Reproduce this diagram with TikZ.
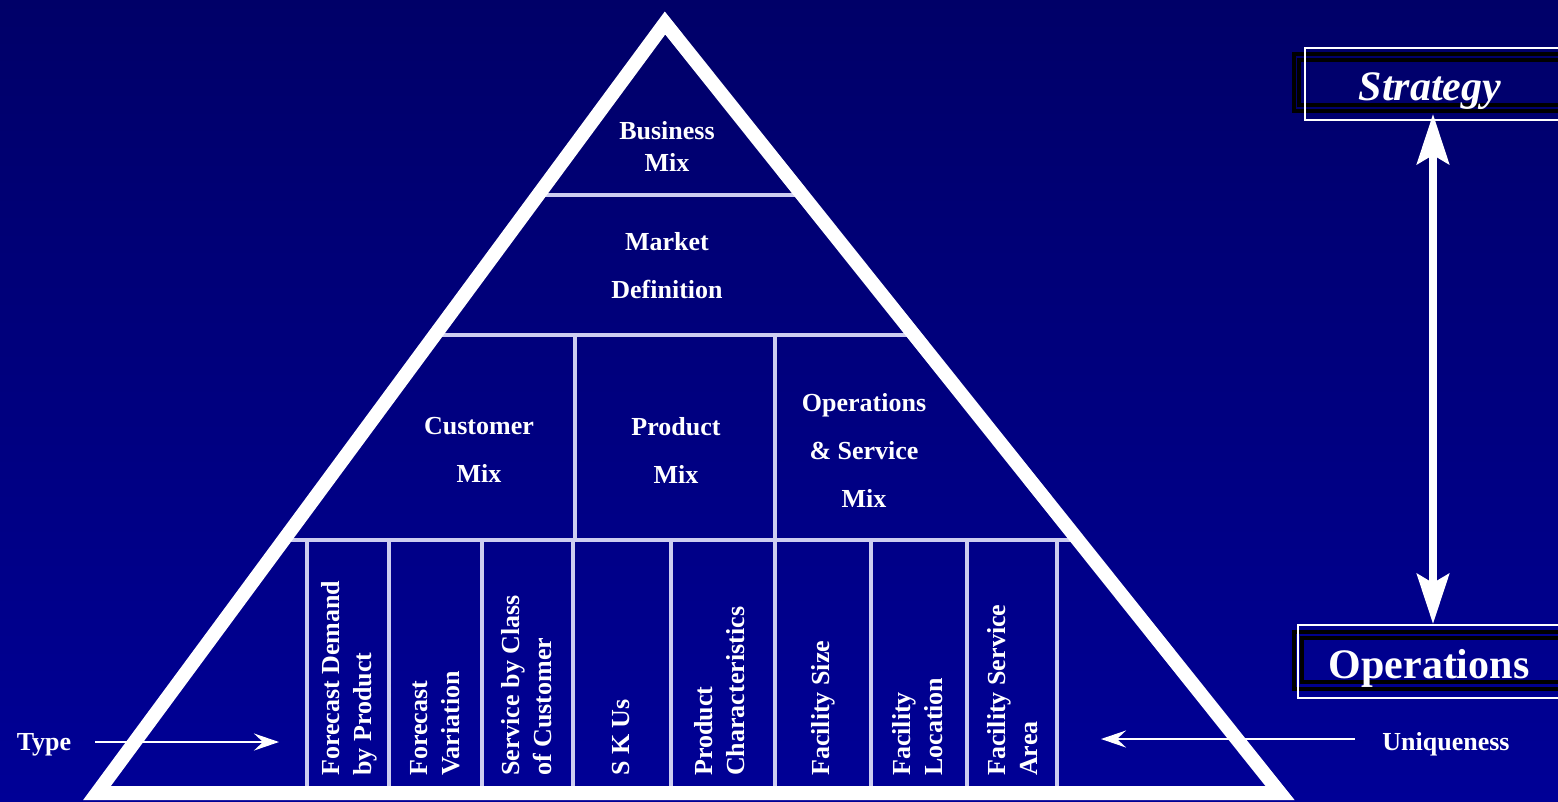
\documentclass[tikz,border=0pt]{standalone}
\usepackage{fontspec}
\setmainfont{Liberation Serif}
\usetikzlibrary{arrows.meta}
\definecolor{bgtop}{RGB}{0,0,104}
\definecolor{bgbot}{RGB}{0,0,150}
\definecolor{divline}{RGB}{205,205,240}
\begin{document}
\begin{tikzpicture}[x=1pt,y=-1pt,
  lbl/.style={text=white,font=\fontsize{26}{48}\selectfont\bfseries,align=center,inner sep=0},
  toplbl/.style={text=white,font=\fontsize{26}{32}\selectfont\bfseries,align=center,inner sep=0},
  sidelbl/.style={text=white,font=\fontsize{26}{32}\selectfont\bfseries,inner sep=0,anchor=base},
  vlbl/.style={text=white,font=\fontsize{26}{32}\selectfont\bfseries,align=left,inner sep=0,rotate=90,anchor=west},
  biglbl/.style={text=white,inner sep=0,anchor=base},
  divider/.style={draw=divline,line width=3.5},
  frame/.style={draw=white,line width=14,line join=miter,miter limit=10},
  thinarr/.style={draw=white,line width=2.5,-{Stealth[length=25pt,width=17pt,inset=9pt]}},
  bigarr/.style={draw=white,line width=8,{Stealth[length=50pt,width=32pt,inset=9pt]}-{Stealth[length=50pt,width=32pt,inset=9pt]}},
  whitebox/.style={draw=white,line width=2},
  blackbox/.style={draw=black,line width=3.5},
]
\useasboundingbox (0,0) rectangle (1558,801);
\clip (0,0) rectangle (1558,801);
\shade[top color=bgtop,bottom color=bgbot] (0,0) rectangle (1558,801);

% inner dividers
\draw[divider] (537,195) -- (803,195);
\draw[divider] (434,335) -- (915,335);
\draw[divider] (283,540) -- (1078,540);
\foreach \x in {575,775} \draw[divider] (\x,335) -- (\x,540);
\foreach \x in {307,389,482,573,671,775,871,967,1057} \draw[divider] (\x,540) -- (\x,793);

% pyramid frame
\draw[frame] (665,23) -- (97,793) -- (1280,793) -- cycle;

% pyramid labels
\node[toplbl] (business) at (667,146) {Business\\Mix};
\node[lbl] (market) at (667,266) {Market\\Definition};
\node[lbl] (customer) at (479,450) {Customer\\Mix};
\node[lbl] (product) at (676,450) {Product\\Mix};
\node[lbl] (opsmix) at (864,450) {Operations\\\& Service\\Mix};

\node[vlbl] (fdemand) at (349,776) {Forecast Demand\\by Product};
\node[vlbl] (fvar) at (435,776) {Forecast\\Variation};
\node[vlbl] (sclass) at (527,776) {Service by Class\\of Customer};
\node[vlbl] (skus) at (621,776) {S K Us};
\node[vlbl] (pchar) at (720,776) {Product\\Characteristics};
\node[vlbl] (fsize) at (823,776) {Facility Size};
\node[vlbl] (floc) at (918,776) {Facility\\Location};
\node[vlbl] (farea) at (1013,776) {Facility Service\\Area};

% side labels and arrows
\node[sidelbl] (type) at (44,750) {Type};
\node[sidelbl] (uniq) at (1446,750) {Uniqueness};
\coordinate (typeA) at (95,742);
\coordinate (typeB) at (279,742);
\draw[thinarr] (typeA) -- (typeB);
\coordinate (uniqA) at (1355,739);
\coordinate (uniqB) at (1101,739);
\draw[thinarr] (uniqA) -- (uniqB);

% Strategy box
\draw[blackbox] (1294,54) rectangle (1600,111);
\draw[blackbox] (1299,60) rectangle (1600,105);
\draw[whitebox] (1305,48) rectangle (1600,120);
\node[biglbl,font=\fontsize{42}{42}\selectfont\bfseries\itshape] (strategy) at (1430,100) {Strategy};

% Operations box
\draw[blackbox] (1294,632) rectangle (1600,689);
\draw[blackbox] (1302,638) rectangle (1600,682);
\draw[whitebox] (1298,625) rectangle (1600,698);
\node[biglbl,font=\fontsize{42}{42}\selectfont\bfseries] (operations) at (1429,678) {Operations};

% double arrow
\coordinate (sArrow) at (1433,114);
\coordinate (oArrow) at (1433,624);
\draw[bigarr] (sArrow) -- (oArrow);
\end{tikzpicture}
\end{document}
